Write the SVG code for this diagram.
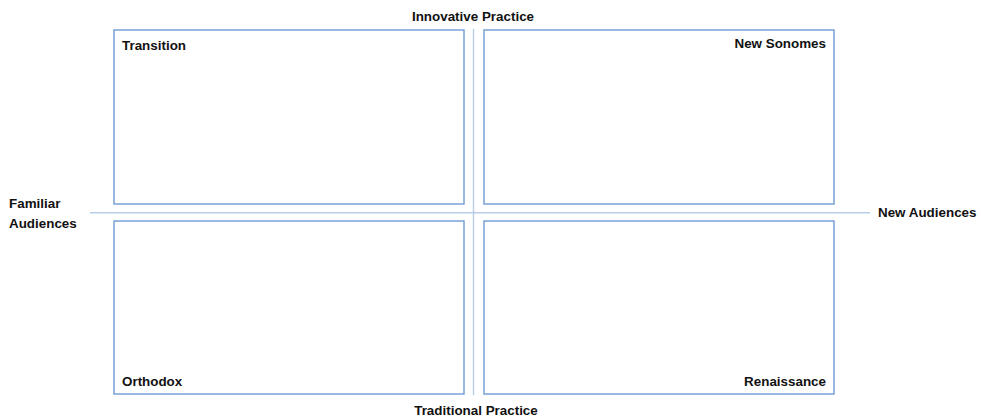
<svg xmlns="http://www.w3.org/2000/svg" width="981" height="419" viewBox="0 0 981 419">
  <style>
    .quad { fill: #ffffff; stroke: #6f9bd4; stroke-width: 1.4; }
    .axis { stroke: #b9cdea; stroke-width: 1.4; fill: none; }
    .lbl { font-family: "Liberation Sans", Arial, sans-serif; font-weight: bold; font-size: 13.4px; fill: #111111; }
  </style>
  <rect width="981" height="419" fill="#ffffff"/>

  <!-- axes -->
  <g id="axes">
    <line class="axis" x1="90" y1="212.7" x2="870" y2="212.7"/>
    <line class="axis" x1="473.5" y1="29" x2="473.5" y2="395"/>
  </g>

  <!-- quadrants -->
  <g id="transition">
    <rect class="quad" x="114" y="30" width="350" height="174"/>
    <text class="lbl" x="122" y="50">Transition</text>
  </g>
  <g id="new-sonomes">
    <rect class="quad" x="484" y="30" width="350" height="174"/>
    <text class="lbl" x="826" y="48" text-anchor="end">New Sonomes</text>
  </g>
  <g id="orthodox">
    <rect class="quad" x="114" y="221" width="350" height="173"/>
    <text class="lbl" x="122" y="386">Orthodox</text>
  </g>
  <g id="renaissance">
    <rect class="quad" x="484" y="221" width="350" height="173"/>
    <text class="lbl" x="826" y="386" text-anchor="end">Renaissance</text>
  </g>

  <!-- axis labels -->
  <g id="axis-labels">
    <text class="lbl" x="473" y="20.5" text-anchor="middle">Innovative Practice</text>
    <text class="lbl" x="476" y="415" text-anchor="middle">Traditional Practice</text>
    <text class="lbl" x="9" y="208">Familiar</text>
    <text class="lbl" x="9" y="227.5">Audiences</text>
    <text class="lbl" x="878" y="217">New Audiences</text>
  </g>
</svg>
